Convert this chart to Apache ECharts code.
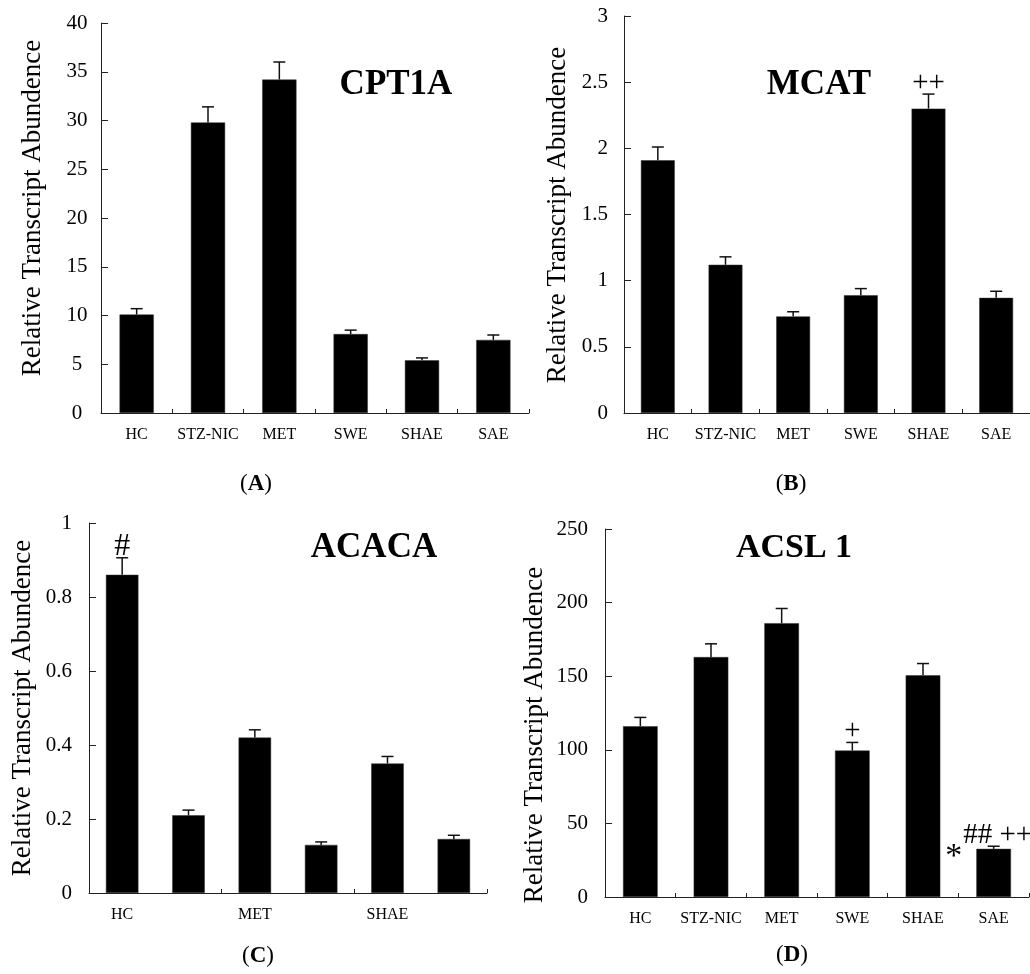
<!DOCTYPE html>
<html>
<head>
<meta charset="utf-8">
<script src="https://cdn.jsdelivr.net/npm/echarts@6/dist/echarts.min.js"></script>
<style>
  html, body { margin: 0; padding: 0; background: #fff; }
  #chart { width: 1030px; height: 974px; }
</style>
</head>
<body>
<div id="chart"></div>
<script>
// ---- data ----
const categories = ['HC', 'STZ-NIC', 'MET', 'SWE', 'SHAE', 'SAE'];

const cpt1aValues = [10.1, 29.8, 34.2, 8.1, 5.4, 7.5];
const cpt1aErrors = [0.6, 1.6, 1.8, 0.4, 0.25, 0.5];
const cpt1aMarks  = ['', '', '', '', '', ''];

const mcatValues = [1.91, 1.12, 0.73, 0.89, 2.30, 0.87];
const mcatErrors = [0.10, 0.06, 0.035, 0.05, 0.11, 0.05];
const mcatMarks  = ['', '', '', '', '++', ''];

const acacaValues = [0.86, 0.21, 0.42, 0.13, 0.35, 0.146];
const acacaErrors = [0.046, 0.014, 0.021, 0.008, 0.019, 0.01];
const acacaMarks  = ['#', '', '', '', '', ''];

const acsl1Values = [116, 163, 186, 99.5, 150.6, 32.7];
const acsl1Errors = [6, 9, 10, 5.5, 8, 1.8];
const acsl1Marks  = ['', '', '', '+', '', '## ++'];
const acsl1Side   = ['', '', '', '', '', '*'];

const yMaxA = 40,  yStepA = 5;
const yMaxB = 3,   yStepB = 0.5;
const yMaxC = 1,   yStepC = 0.2;
const yMaxD = 250, yStepD = 50;

const yAxisTitle = 'Relative Transcript Abundence';

// ---- chart ----
const SERIF = '"Liberation Serif", "Times New Roman", serif';
const chart = echarts.init(document.getElementById('chart'), null, { renderer: 'canvas' });

const panels = [
  { grid: { left: 101, top: 23, width: 428, height: 390 }, values: cpt1aValues, errors: cpt1aErrors, marks: cpt1aMarks, side: null,
    max: yMaxA, step: yStepA, labelAlign: 'center', labelMargin: 24, xInterval: 0, barWidth: '48%', markFont: '29px ' + SERIF },
  { grid: { left: 624, top: 16, width: 406, height: 397 }, values: mcatValues, errors: mcatErrors, marks: mcatMarks, side: null,
    max: yMaxB, step: yStepB, labelAlign: 'right', labelMargin: 16, xInterval: 0, barWidth: '50%', markFont: '29px ' + SERIF },
  { grid: { left: 89, top: 523, width: 398, height: 370 }, values: acacaValues, errors: acacaErrors, marks: acacaMarks, side: null,
    max: yMaxC, step: yStepC, labelAlign: 'right', labelMargin: 17, xInterval: 1, barWidth: '49%', markFont: '32px ' + SERIF },
  { grid: { left: 605, top: 529, width: 424, height: 368 }, values: acsl1Values, errors: acsl1Errors, marks: acsl1Marks, side: acsl1Side,
    max: yMaxD, step: yStepD, labelAlign: 'right', labelMargin: 17, xInterval: 0, barWidth: '49%', markFont: '29px ' + SERIF }
];

function makeErrRender(marks, side, markFont) {
  return function (params, api) {
    const i = params.dataIndex;
    const c = api.value(0), v = api.value(1), e = api.value(2);
    const p0 = api.coord([c, v]);
    const p1 = api.coord([c, v + e]);
    const stroke = { stroke: '#111', lineWidth: 1.5 };
    const children = [
      { type: 'line', shape: { x1: p0[0], y1: p0[1], x2: p1[0], y2: p1[1] }, style: stroke },
      { type: 'line', shape: { x1: p1[0] - 6, y1: p1[1], x2: p1[0] + 6, y2: p1[1] }, style: stroke }
    ];
    if (marks[i]) {
      const shift = marks[i].indexOf(' ') >= 0 ? 4 : 0;
      children.push({ type: 'text', x: p1[0] + shift, y: p1[1] - 11,
        style: { text: marks[i], font: markFont, textAlign: 'center', textVerticalAlign: 'middle', fill: '#000' } });
    }
    if (side && side[i]) {
      children.push({ type: 'text', x: p0[0] - 40, y: p0[1] + 8,
        style: { text: side[i], font: '34px ' + SERIF, textAlign: 'center', textVerticalAlign: 'middle', fill: '#000' } });
    }
    return { type: 'group', children: children };
  };
}

const grids = [], xAxes = [], yAxes = [], series = [];
panels.forEach(function (p, k) {
  grids.push(Object.assign({ containLabel: false }, p.grid));
  xAxes.push({
    type: 'category', gridIndex: k, data: categories, boundaryGap: true,
    axisLine: { lineStyle: { color: '#222', width: 1 } },
    axisTick: { show: true, inside: true, length: 4, alignWithLabel: false, lineStyle: { color: '#222' } },
    axisLabel: { interval: p.xInterval, margin: 14, color: '#000', fontFamily: SERIF, fontSize: 16 },
    splitLine: { show: false }
  });
  yAxes.push({
    type: 'value', gridIndex: k, min: 0, max: p.max, interval: p.step,
    axisLine: { show: true, lineStyle: { color: '#222', width: 1 } },
    axisTick: { show: true, inside: true, length: 7, lineStyle: { color: '#222' } },
    axisLabel: { color: '#000', fontFamily: SERIF, fontSize: 21, align: p.labelAlign, margin: p.labelMargin,
      formatter: function (v) { return String(Math.round(v * 100) / 100); } },
    splitLine: { show: false }
  });
  series.push({
    type: 'bar', xAxisIndex: k, yAxisIndex: k, data: p.values, barWidth: p.barWidth,
    itemStyle: { color: '#000', borderColor: '#333', borderWidth: 0.5 }, silent: true
  });
  series.push({
    type: 'custom', xAxisIndex: k, yAxisIndex: k, silent: true, z: 5,
    data: categories.map(function (c, i) { return [i, p.values[i], p.errors[i]]; }),
    encode: { x: 0, y: 1 },
    renderItem: makeErrRender(p.marks, p.side, p.markFont)
  });
});

function txt(text, x, y, font, rot) {
  return { type: 'text', x: x, y: y, rotation: rot || 0,
    style: { text: text, font: font, textAlign: 'center', textVerticalAlign: 'middle', fill: '#000' } };
}
function panelLetter(letter, x, y) {
  return { type: 'text', x: x, y: y,
    style: { text: '{n|(}{b|' + letter + '}{n|)}', textAlign: 'center', textVerticalAlign: 'middle', fill: '#000',
      rich: { n: { font: '23px ' + SERIF, fill: '#000' }, b: { font: 'bold 23px ' + SERIF, fill: '#000' } } } };
}

const graphics = [
  txt('CPT1A', 396, 85, 'bold 35px ' + SERIF),
  txt('MCAT', 819, 85, 'bold 35px ' + SERIF),
  txt('ACACA', 374, 548, 'bold 35px ' + SERIF),
  txt('ACSL 1', 794, 548, 'bold 34px ' + SERIF),
  txt(yAxisTitle, 33, 208, '27px ' + SERIF, Math.PI / 2),
  txt(yAxisTitle, 558, 215, '27px ' + SERIF, Math.PI / 2),
  txt(yAxisTitle, 23, 708, '27px ' + SERIF, Math.PI / 2),
  txt(yAxisTitle, 535, 735, '27px ' + SERIF, Math.PI / 2),
  panelLetter('A', 256, 484),
  panelLetter('B', 791, 484),
  panelLetter('C', 258, 956),
  panelLetter('D', 792, 955)
];

chart.setOption({
  animation: false,
  backgroundColor: '#fff',
  grid: grids,
  xAxis: xAxes,
  yAxis: yAxes,
  series: series,
  graphic: graphics
});
</script>
</body>
</html>
